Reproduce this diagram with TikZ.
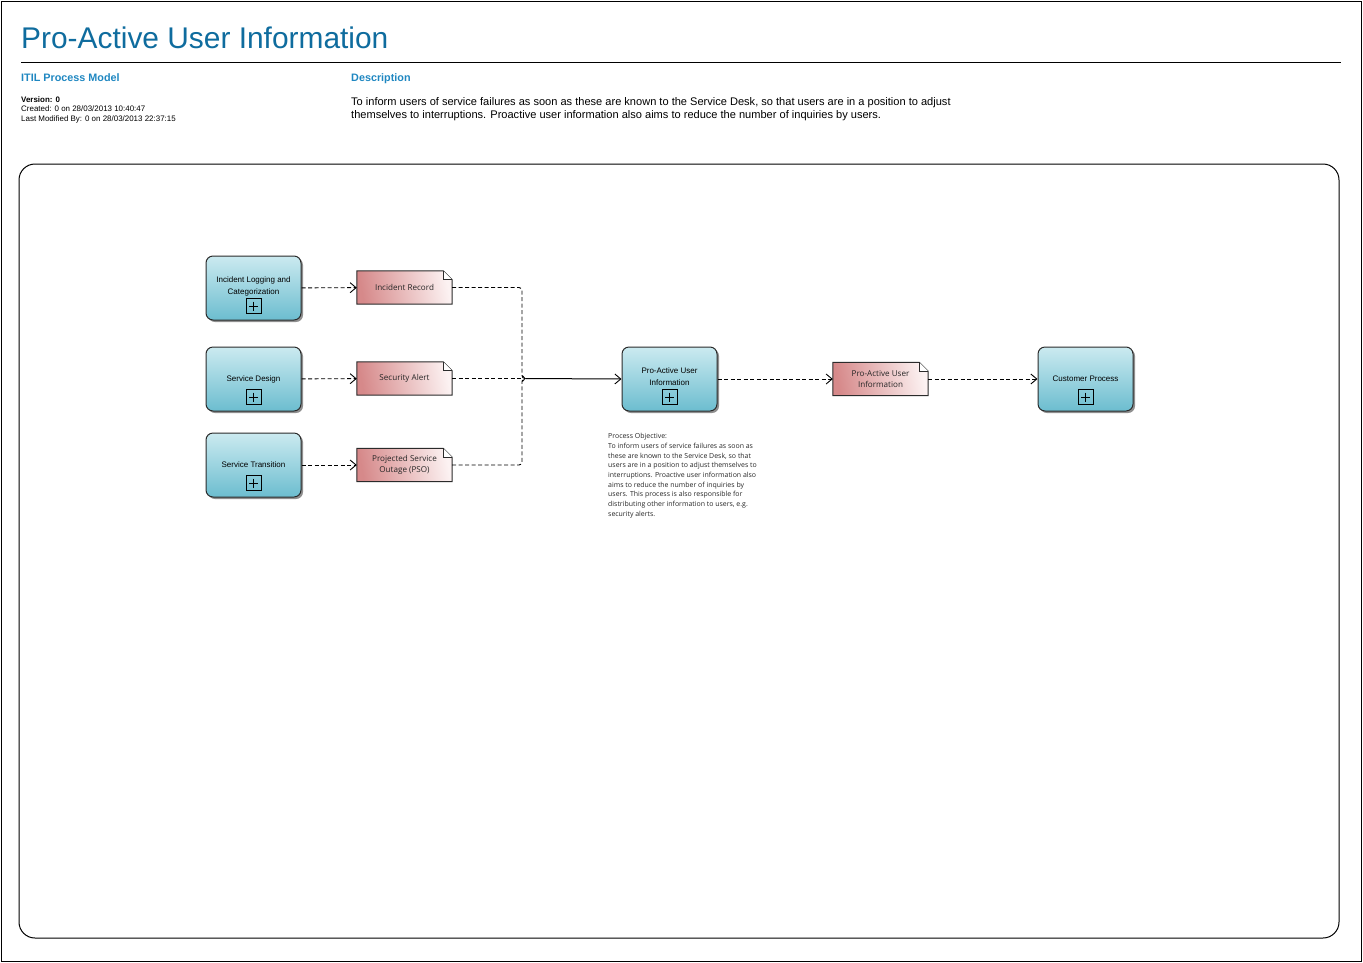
\documentclass[tikz,border=0pt]{standalone}
\usepackage{fontspec}
\setmainfont{Liberation Sans}
\newfontfamily\notefont{Open Sans}
\usetikzlibrary{arrows.meta,shadows,backgrounds,positioning}

\definecolor{titleblue}{HTML}{0F6C9E}
\definecolor{headblue}{HTML}{1F87C1}
\definecolor{procTop}{HTML}{CBEAF0}
\definecolor{procBot}{HTML}{6CBDCF}
\definecolor{noteL}{HTML}{D6898A}
\definecolor{noteR}{HTML}{FCF2F2}
\definecolor{edge}{HTML}{2B2B2B}
\definecolor{notetext}{HTML}{262626}

\tikzset{
  proc/.style={draw=edge, line width=1pt, rounded corners=7pt,
    top color=procTop, bottom color=procBot,
    minimum width=95pt, minimum height=64pt, inner sep=2pt,
    align=center, font=\fontsize{8}{11.6}\selectfont,
    drop shadow={shadow xshift=2pt, shadow yshift=-2pt, fill=black!55, opacity=0.8}},
  twoline/.style={text depth=5pt},
  plusbox/.style={draw=black, line width=1pt, minimum size=15pt, inner sep=0pt,
    path picture={
      \draw[line width=0.9pt] ([xshift=3pt]path picture bounding box.west) -- ([xshift=-3pt]path picture bounding box.east);
      \draw[line width=0.9pt] ([yshift=-3pt]path picture bounding box.north) -- ([yshift=3pt]path picture bounding box.south);}},
  artifact/.style={minimum width=95pt, minimum height=33pt, inner sep=1pt,
    align=center, text=notetext, font=\notefont\fontsize{8.1}{11.5}\selectfont},
  flowdash/.style={draw=black, line width=0.9pt, dash pattern=on 4pt off 2.5pt},
  barb/.style={-{Straight Barb[length=6pt,width=10pt,line width=0.9pt]}},
}

\begin{document}
\begin{tikzpicture}[x=1pt,y=-1pt]
\useasboundingbox (0,0) rectangle (1363,962);

% page frame and diagram frame
\draw[line width=1pt] (1.5,1.5) rectangle (1361,961);
\draw[line width=1pt, rounded corners=16pt] (19,164) rectangle (1339,938);

% header
\node[anchor=base west, inner sep=0, text=titleblue, font=\fontsize{29.9}{32}\selectfont] (title) at (21,48) {Pro-Active User Information};
\draw[line width=1pt] (21,62) -- (1341,62);
\node[anchor=base west, inner sep=0, text=headblue, font=\bfseries\fontsize{10.8}{13}\selectfont] (model) at (21,81) {ITIL Process Model};
\node[anchor=base west, inner sep=0, text=headblue, font=\bfseries\fontsize{10.8}{13}\selectfont] (deschead) at (351,81) {Description};
\node[anchor=north west, inner sep=0, align=left, font=\fontsize{7.95}{9.3}\selectfont] (meta) at (21,96.5)
  {\textbf{Version: 0}\\Created: 0 on 28/03/2013 10:40:47\\Last Modified By: 0 on 28/03/2013 22:37:15};
\node[anchor=north west, inner sep=0, align=left, font=\fontsize{11.05}{13.3}\selectfont] (desc) at (351,97)
  {To inform users of service failures as soon as these are known to the Service Desk, so that users are in a position to adjust\\
   themselves to interruptions. Proactive user information also aims to reduce the number of inquiries by users.};

% process activities
\node[proc, twoline] (il)  at (253.5,288) {Incident Logging and\\Categorization};
\node[proc] (sd)  at (253.5,379) {Service Design};
\node[proc] (st)  at (253.5,465) {Service Transition};
\node[proc, twoline] (pua) at (669.5,379) {Pro-Active User\\Information};
\node[proc] (cp)  at (1085.5,379) {Customer Process};

\foreach \b in {il,sd,st,pua,cp}
  \node[plusbox] (\b-plus) at ([yshift=14.5pt]\b.south) {};

% information artifacts
\node[artifact] (ir)   at (404.5,287.5) {Incident Record};
\node[artifact] (sa)   at (404.5,378.5) {Security Alert};
\node[artifact] (pso)  at (404.5,465)   {Projected Service\\Outage (PSO)};
\node[artifact] (puin) at (880.5,379)   {Pro-Active User\\Information};

\begin{scope}[on background layer]
\foreach \n in {ir,sa,pso,puin}{
  \shade[left color=noteL, right color=noteR, shading angle=100]
    (\n.north west) -- ([xshift=-9pt]\n.north east) -- ([yshift=-9pt]\n.north east)
    -- (\n.south east) -- (\n.south west) -- cycle;
  \draw[edge, line width=1pt, line join=miter]
    (\n.north west) -- ([xshift=-9pt]\n.north east) -- ([yshift=-9pt]\n.north east)
    -- (\n.south east) -- (\n.south west) -- cycle;
  \filldraw[fill=white, draw=edge, line width=0.7pt]
    ([xshift=-9pt]\n.north east) -- ([xshift=-9pt,yshift=-9pt]\n.north east) -- ([yshift=-9pt]\n.north east);
}
\end{scope}

% process objective annotation
\node[anchor=north west, inner sep=0, align=left, text=notetext, font=\notefont\fontsize{6.95}{9.65}\selectfont] (obj) at (608,433.5)
  {Process Objective:\\
   To inform users of service failures as soon as\\
   these are known to the Service Desk, so that\\
   users are in a position to adjust themselves to\\
   interruptions. Proactive user information also\\
   aims to reduce the number of inquiries by\\
   users. This process is also responsible for\\
   distributing other information to users, e.g.\\
   security alerts.};

% flows into the artifacts
\draw[flowdash, barb] (il) -- (ir);
\draw[flowdash, barb] (sd) -- (sa);
\draw[flowdash, barb] (st) -- (pso);

% artifacts merging into the activity
\coordinate (jc) at (522,378.5);
\coordinate (j)  at (525.5,378.5);
\draw[flowdash, rounded corners=3pt] (ir.east) -| (jc) -- (j);
\draw[flowdash, rounded corners=3pt] (pso.east) -| (jc) -- (j);
\draw[flowdash, -{Straight Barb[length=2.5pt,width=6pt,line width=0.8pt]}] (sa.east) -- (j);
\draw[draw=black, line width=1pt, barb] (j) -- (pua.west);

% outgoing information
\draw[flowdash, barb] (pua) -- (puin);
\draw[flowdash, barb] (puin) -- (cp);
\end{tikzpicture}
\end{document}
